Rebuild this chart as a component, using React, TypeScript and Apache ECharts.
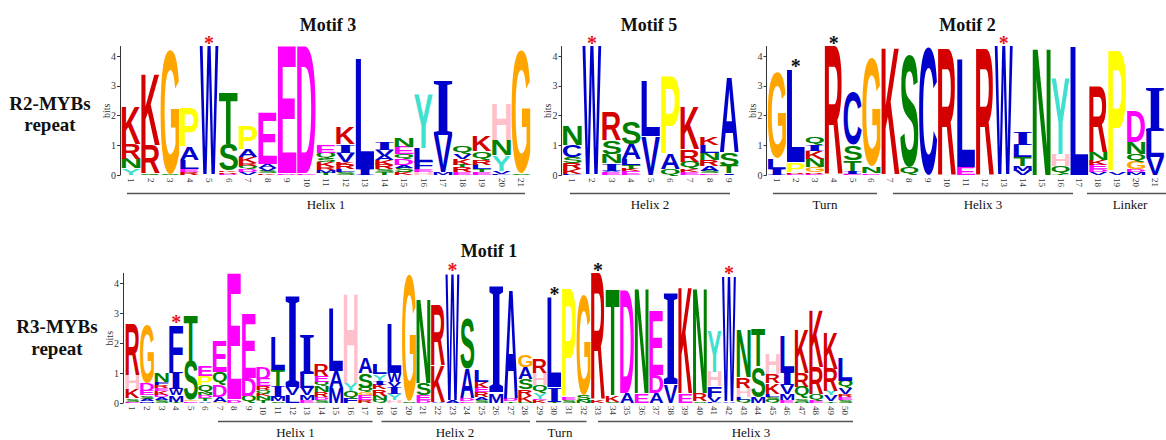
import React, { useEffect, useRef } from 'react';
import * as echarts from 'echarts';

// Each column: letters from bottom to top, letter followed by its height in bits
const motif3: string[] = [
  'Y0.22 N0.33 R0.5 K1.25',
  'Q0.05 R0.95 K2.4',
  'S0.03 G4.15',
  'R0.1 E0.1 L0.3 A0.45 P1.3',
  'W4.3',
  'D0.05 R0.05 K0.05 S0.9 T1.75',
  'V0.1 D0.1 Q0.1 R0.1 K0.2 A0.25 P0.8',
  'K0.05 S0.1 V0.1 A0.12 E1.7',
  'D0.05 E4.25',
  'E0.05 D4.25',
  'T0.08 M0.1 R0.1 K0.15 S0.12 Q0.2 E0.25',
  'S0.1 L0.1 R0.15 K0.1 V0.3 I0.3 K0.55',
  'I0.2 L3.7',
  'T0.1 S0.1 R0.15 K0.15 A0.15 V0.2 I0.3',
  'K0.1 S0.15 A0.1 D0.2 Q0.15 E0.25 N0.3',
  'H0.1 E0.1 F0.25 L0.45 Y1.8',
  'M0.1 V1.25 I1.85',
  'E0.1 R0.15 T0.1 K0.2 V0.15 Q0.3',
  'E0.1 T0.1 L0.15 R0.15 Q0.3 K0.5',
  'F0.05 V0.1 Y0.5 N0.5 H1.2',
  'S0.05 G4.1',
];
const motif3Labels = ['1','2','3','4','5','6','7','8','9','10','11','12','13','14','15','16','17','18','19','20','21'];
const motif3Stars: [number, string][] = [[5, '#e8141c']];

const motif5: string[] = [
  'F0.05 K0.15 R0.2 S0.2 C0.4 N0.65',
  'W4.3',
  'E0.1 V0.05 I0.25 N0.3 S0.45 R0.95',
  'E0.12 K0.08 T0.12 L0.2 A0.5 S0.75',
  'V1.3 L1.85',
  'Q0.2 A0.5 P2.6',
  'E0.1 K0.1 Q0.25 R0.4 K1.45',
  'E0.05 S0.1 A0.15 R0.2 N0.25 L0.25 K0.25',
  'I0.05 T0.25 S0.45 A2.55',
];
const motif5Labels = ['1','2','3','4','5','6','7','8','9'];
const motif5Stars: [number, string][] = [[2, '#e8141c']];

const motif2: string[] = [
  'I0.2 L0.35 G2.9',
  'E0.05 R0.05 P0.3 L3.1',
  'E0.05 R0.05 G0.15 N0.3 K0.25 I0.2 Q0.3',
  'R4.3',
  'E0.05 I0.1 T0.35 S0.5 C1.75',
  'E0.05 N0.2 G3.65',
  'K4.3',
  'Q0.25 S3.75',
  'C4.3',
  'R4.2',
  'E0.25 L3.6',
  'R4.2',
  'W4.3',
  'V0.15 M0.15 T0.3 L0.4 I0.4',
  'N4.3',
  'T0.05 Q0.25 H0.4 Y2.55',
  'L4.3',
  'V0.1 D0.1 E0.15 K0.15 N0.25 R2.2',
  'V0.1 P4.05',
  'M0.1 D0.1 G0.25 Q0.25 N0.4 D1.05',
  'V0.6 L0.85 I1.45',
];
const motif2Labels = ['1','2','3','4','5','6','7','8','9','10','11','12','13','14','15','16','17','18','19','20','21'];
const motif2Stars: [number, string][] = [[2, '#111111'], [4, '#111111'], [13, '#e8141c']];

const motif1: string[] = [
  'E0.05 S0.1 K0.3 H0.45 R1.7',
  'M0.05 A0.1 S0.1 E0.15 D0.25 G1.95',
  'S0.1 A0.1 D0.08 K0.12 E0.1 R0.1 F0.1 N0.32',
  'T0.05 M0.2 W0.2 I0.55 F1.55',
  'E0.05 G0.05 S1.3 T1.5',
  'A0.05 T0.1 D0.1 N0.1 Q0.25 P0.3 E0.35',
  'G0.05 A0.15 D0.4 Q0.45 E1.0',
  'D0.1 E4.2',
  'Q0.25 D0.6 E2.15',
  'T0.1 N0.12 K0.1 Q0.1 R0.13 E0.25 D0.4',
  'S0.05 M0.15 I0.35 T0.55 L1.1',
  'L0.25 V0.25 I3.05',
  'E0.1 M0.15 V0.25 L0.45 I1.3',
  'S0.1 D0.1 R0.15 N0.2 Q0.15 E0.2 R0.4',
  'M0.5 A0.55 L2.1',
  'F0.15 Q0.25 Y0.25 H3.0',
  'R0.1 E0.15 G0.1 Q0.15 S0.5 A0.5',
  'Q0.1 N0.15 R0.2 K0.15 I0.15 Y0.2 L0.35',
  'H0.1 Y0.2 I0.25 V0.15 W0.3 L1.6',
  'S0.05 G4.2',
  'D0.1 E0.15 S0.4 N2.8',
  'A0.05 K1.2 R2.0',
  'A0.1 W4.2',
  'E0.05 D0.1 A1.0 S1.65',
  'S0.1 A0.1 R0.15 E0.15 K0.2 L0.4',
  'M0.3 I3.55',
  'T0.05 D0.1 A3.65',
  'N0.05 K0.2 R0.2 S0.35 A0.4 G0.4',
  'K0.1 E0.05 Y0.2 Q0.25 H0.4 R0.45',
  'T0.05 I0.45 L3.0',
  'S0.1 E0.1 P3.6',
  'N0.1 S0.15 G3.35',
  'K0.1 R4.2',
  'S0.05 K0.2 T3.55',
  'A0.35 D3.4',
  'E0.3 N3.5',
  'A0.35 D0.6 E2.15',
  'V0.6 I3.05',
  'E0.3 K3.55',
  'S0.05 R0.25 N3.5',
  'L0.05 V0.15 F0.35 H0.5 Y1.35',
  'A0.05 W4.15',
  'Q0.1 L0.1 H0.3 R0.35 N1.6',
  'M0.2 S1.0 T1.25',
  'Q0.1 S0.1 L0.1 K0.35 R0.3 H0.7',
  'E0.1 M0.2 V0.3 I0.4 L1.2',
  'N0.05 S0.1 Q0.4 R0.45 K1.45',
  'E0.1 Q0.2 R0.9 K1.9',
  'T0.05 V0.2 Y0.15 R0.75 K1.2',
  'S0.1 E0.1 R0.1 V0.2 Q0.25 L0.75',
];
const motif1Labels = ['1','2','3','4','5','6','7','8','9','10','11','12','13','14','15','16','17','18','19','20','21','22','23','24','25','26','27','28','29','30','31','32','33','34','35','36','37','38','39','40','41','42','43','44','45','46','47','48','49','50'];
const motif1Stars: [number, string][] = [[4, '#e8141c'], [23, '#e8141c'], [30, '#111111'], [33, '#111111'], [42, '#e8141c']];

const yTicks = [0, 1, 2, 3, 4];

const COLORS: Record<string, string> = {
  K: '#d40000', R: '#d40000',
  G: '#ffa500', P: '#ffff00',
  A: '#0000cc', C: '#0000cc', F: '#0000cc', I: '#0000cc', L: '#0000cc', M: '#0000cc', V: '#0000cc', W: '#0000cc',
  S: '#008000', T: '#008000', N: '#008000', Q: '#008000',
  D: '#ff00ff', E: '#ff00ff',
  Y: '#40e0d0', H: '#ffc0cb',
};

const SERIF = '"Liberation Serif", "Times New Roman", serif';
const SANS = 'Liberation Sans';
const SERIF_LETTER = 'Liberation Serif';
const LETTER_SIZE = 100;
const familyOf = (ch: string) => (ch === 'I' ? SERIF_LETTER : SANS);

// central-baseline height above the alphabetic baseline, per font family (px at LETTER_SIZE)
const centralCache: Record<string, number> = {};
function centralOf(family: string): number {
  if (centralCache[family] !== undefined) return centralCache[family];
  let c = 0.41 * LETTER_SIZE;
  try {
    const ns = 'http://www.w3.org/2000/svg';
    const svg = document.createElementNS(ns, 'svg');
    svg.setAttribute('width', '200');
    svg.setAttribute('height', '200');
    (svg as any).style.position = 'absolute';
    (svg as any).style.left = '-5000px';
    (svg as any).style.top = '0px';
    const t = document.createElementNS(ns, 'text');
    t.setAttribute('x', '0');
    t.setAttribute('y', '0');
    t.setAttribute('dominant-baseline', 'central');
    t.setAttribute('font-family', family);
    t.setAttribute('font-size', String(LETTER_SIZE));
    t.setAttribute('font-weight', 'bold');
    t.textContent = 'H';
    svg.appendChild(t);
    document.body.appendChild(svg);
    const bb = (t as any).getBBox();
    document.body.removeChild(svg);
    const ctx = document.createElement('canvas').getContext('2d')!;
    ctx.font = `bold ${LETTER_SIZE}px "${family}"`;
    ctx.textBaseline = 'alphabetic';
    const m = ctx.measureText('H');
    const v = bb.y + m.fontBoundingBoxAscent;
    if (isFinite(v) && v > 15 && v < 65) c = v;
  } catch (e) {
    /* keep fallback */
  }
  centralCache[family] = c;
  return c;
}

type Glyph = { l: number; r: number; a: number; d: number; c: number; family: string };
const glyphCache: Record<string, Glyph> = {};
function glyph(ch: string): Glyph {
  if (glyphCache[ch]) return glyphCache[ch];
  const family = familyOf(ch);
  const ctx = document.createElement('canvas').getContext('2d')!;
  ctx.font = `bold ${LETTER_SIZE}px "${family}"`;
  ctx.textBaseline = 'alphabetic';
  ctx.textAlign = 'center';
  const m = ctx.measureText(ch);
  const g = { l: m.actualBoundingBoxLeft, r: m.actualBoundingBoxRight, a: m.actualBoundingBoxAscent, d: m.actualBoundingBoxDescent, c: centralOf(family), family };
  glyphCache[ch] = g;
  return g;
}

function parseStack(s: string): [string, number][] {
  return s.split(' ').map((t) => [t[0], parseFloat(t.slice(1))] as [string, number]);
}

function makeRender(stacks: [string, number][][], stars: [number, string][]) {
  return (params: any, api: any) => {
    const i = api.value(0) as number;
    const stack = stacks[i];
    const cw = (api.size([1, 0]) as number[])[0];
    const cx = api.coord([i, 0])[0];
    const children: any[] = [];
    let acc = 0;
    for (const [ch, h] of stack) {
      const yb = api.coord([i, acc])[1];
      const yt = api.coord([i, acc + h])[1];
      acc += h;
      const ph = yb - yt;
      if (ph < 0.3) continue;
      const g = glyph(ch);
      const sx = (cw * 0.96) / (g.l + g.r);
      const sy = ph / (g.a + g.d);
      children.push({
        type: 'text',
        x: cx - ((g.r - g.l) / 2) * sx,
        y: yt - (g.c - g.a) * sy,
        scaleX: sx,
        scaleY: sy,
        silent: true,
        style: {
          text: ch, x: 0, y: 0, fill: COLORS[ch] || '#000',
          fontSize: LETTER_SIZE, fontWeight: 'bold', fontFamily: g.family,
          align: 'center', verticalAlign: 'middle', textAlign: 'center', textVerticalAlign: 'middle',
        },
      });
    }
    const star = stars.find((s) => s[0] === i + 1);
    if (star) {
      const top = api.coord([i, acc])[1];
      children.push({
        type: 'text', x: cx, y: top - 8 + 3.6, silent: true,
        style: {
          text: '*', x: 0, y: 0, fill: star[1], fontSize: 20, fontWeight: 'bold', fontFamily: SERIF,
          align: 'center', verticalAlign: 'middle', textAlign: 'center', textVerticalAlign: 'middle',
        },
      });
    }
    return { type: 'group', children };
  };
}

const panels = [
  { stacks: motif3, labels: motif3Labels, stars: motif3Stars, left: 121.25, width: 409.5, top: 46.5, height: 128.5, axisX: 120 },
  { stacks: motif5, labels: motif5Labels, stars: motif5Stars, left: 562.5, width: 176.4, top: 46.5, height: 128.5, axisX: 561.5 },
  { stacks: motif2, labels: motif2Labels, stars: motif2Stars, left: 767.5, width: 397, top: 46.5, height: 128.5, axisX: 766.5 },
  { stacks: motif1, labels: motif1Labels, stars: motif1Stars, left: 125.2, width: 727.5, top: 273.4, height: 129.6, axisX: 123 },
];

function textEl(text: string, x: number, y: number, size: number, bold: boolean) {
  return {
    type: 'text', x, y, silent: true,
    style: {
      text, x: 0, y: 0, fill: '#111', fontSize: size, fontWeight: bold ? 'bold' : 'normal', fontFamily: SERIF,
      align: 'center', verticalAlign: 'middle', textAlign: 'center', textVerticalAlign: 'middle',
    },
  };
}
function lineEl(x1: number, x2: number, y: number) {
  return { type: 'line', silent: true, shape: { x1, y1: y, x2, y2: y }, style: { stroke: '#555', lineWidth: 1.3 } };
}

export default function App() {
  const ref = useRef<HTMLDivElement>(null);
  useEffect(() => {
    document.body.style.margin = '0';
    const chart = echarts.init(ref.current!, undefined, { renderer: 'svg' });
    const grid = panels.map((p) => ({ left: p.left, top: p.top, width: p.width, height: p.height, containLabel: false, outerBoundsMode: 'none' }));
    const xAxis = panels.map((p, gi) => ({
      type: 'category', gridIndex: gi, data: p.labels, boundaryGap: true,
      axisLine: { show: false }, axisTick: { show: false }, splitLine: { show: false },
      axisLabel: { interval: 0, rotate: -90, fontSize: 9, fontFamily: SERIF, color: '#333', margin: 3 },
    }));
    const yAxis = panels.map((p, gi) => ({
      type: 'value', gridIndex: gi, min: 0, max: 4.32, offset: p.left - p.axisX,
      name: 'bits', nameLocation: 'middle', nameGap: 9, nameRotate: 90, nameMoveOverlap: false,
      nameTextStyle: { fontFamily: SERIF, fontSize: 10, color: '#333' },
      axisLine: { show: true, lineStyle: { color: '#333', width: 1 } },
      axisTick: { show: true, length: 3, customValues: yTicks, lineStyle: { color: '#333' } },
      axisLabel: { customValues: yTicks, fontSize: 10, fontFamily: SERIF, color: '#333', margin: 4 },
      splitLine: { show: false },
    }));
    const series = panels.map((p, gi) => {
      const stacks = p.stacks.map(parseStack);
      return {
        type: 'custom', xAxisIndex: gi, yAxisIndex: gi, clip: false,
        data: stacks.map((_, i) => [i]), encode: { x: 0 },
        renderItem: makeRender(stacks, p.stars),
      };
    });
    const graphic = [
      textEl('R2-MYBs', 50, 103.5, 19, true),
      textEl('repeat', 50, 124.5, 19, true),
      textEl('R3-MYBs', 57, 326, 19, true),
      textEl('repeat', 57, 348, 19, true),
      textEl('Motif 3', 328, 24.5, 18, true),
      textEl('Motif 5', 649, 24.5, 18, true),
      textEl('Motif 2', 967.5, 24.5, 18, true),
      textEl('Motif 1', 489, 251, 18, true),
      lineEl(127, 525, 193.5), lineEl(570, 730, 193.5), lineEl(773, 877, 193.5), lineEl(893, 1073, 193.5), lineEl(1087, 1166, 193.5),
      textEl('Helix 1', 326, 204, 13, false),
      textEl('Helix 2', 650, 204, 13, false),
      textEl('Turn', 825, 204, 13, false),
      textEl('Helix 3', 983, 204, 13, false),
      textEl('Linker', 1130, 204, 13, false),
      lineEl(218, 372.5, 421.5), lineEl(381.5, 530, 421.5), lineEl(536, 586.5, 421.5), lineEl(598, 853, 421.5),
      textEl('Helix 1', 295.5, 432, 13, false),
      textEl('Helix 2', 455, 432, 13, false),
      textEl('Turn', 560, 432, 13, false),
      textEl('Helix 3', 751, 432, 13, false),
    ];
    chart.setOption({ animation: false, backgroundColor: '#fff', grid, xAxis, yAxis, series, graphic } as any);
    return () => chart.dispose();
  }, []);
  return <div ref={ref} style={{ position: 'absolute', left: 0, top: 0, width: 1166, height: 440 }} />;
}
